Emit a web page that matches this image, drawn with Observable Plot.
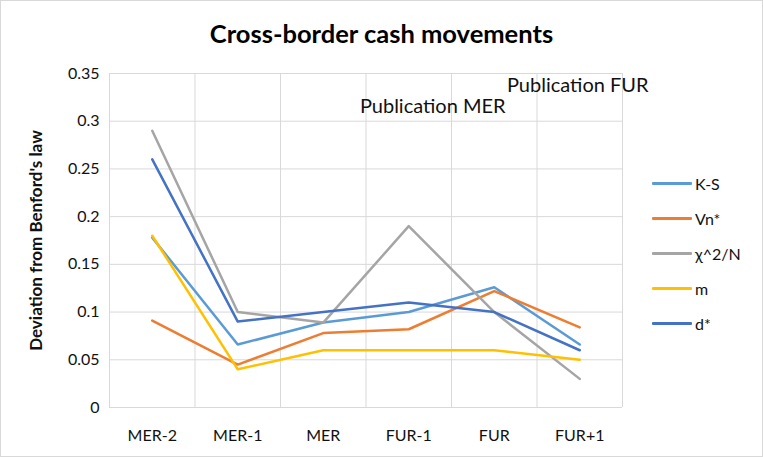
<!DOCTYPE html>
<html>
<head>
<meta charset="utf-8">
<script src="https://cdn.jsdelivr.net/npm/d3@7"></script>
<script src="https://cdn.jsdelivr.net/npm/@observablehq/plot@0.6"></script>
<style>
  html, body { margin: 0; padding: 0; background: #fff; }
  #chart { position: relative; width: 763px; height: 457px; box-sizing: border-box; border: 1px solid #d9d9d9; background: #fff; font-family: Lato, "Open Sans", sans-serif; color: #111; }
  #title { height: 54px; box-sizing: border-box; padding-top: 20px; text-align: center; font-weight: bold; font-size: 25.5px; line-height: 24px; color: #000; }
  #legend { position: absolute; left: 651px; top: 165px; }
  .item { display: flex; align-items: center; height: 35px; font-size: 16px; color: #111; }
  .swatch { width: 40px; height: 2.5px; margin-right: 3px; border-radius: 1px; }
  svg g[aria-label="y-axis label"] text { font-weight: bold; font-size: 17px; }
</style>
</head>
<body>
<div id="chart">
  <div id="title">Cross-border cash movements</div>
  <div id="plot"></div>
  <div id="legend"></div>
</div>
<script>
// ---- data ----
const categories = ["MER-2", "MER-1", "MER", "FUR-1", "FUR", "FUR+1"];
const seriesNames = ["K-S", "Vn*", "χ^2/N", "m", "d*"];
const ksValues = [0.178, 0.066, 0.089, 0.100, 0.126, 0.066];
const vnValues = [0.091, 0.045, 0.078, 0.082, 0.122, 0.084];
const chiValues = [0.290, 0.100, 0.089, 0.190, 0.100, 0.030];
const mValues = [0.180, 0.040, 0.060, 0.060, 0.060, 0.050];
const dValues = [0.260, 0.090, 0.100, 0.110, 0.100, 0.060];
const seriesColors = ["#5B9BD5", "#ED7D31", "#A5A5A5", "#FFC000", "#4472C4"];
const yTicks = [0, 0.05, 0.1, 0.15, 0.2, 0.25, 0.3, 0.35];
const yLabel = "Deviation from Benford's law";
const annotationTexts = ["Publication MER", "Publication FUR"];
const annotationCats = ["FUR-1", "FUR+1"];
const annotationValues = [0.3155, 0.3375];

// ---- build table ----
const allValues = [ksValues, vnValues, chiValues, mValues, dValues];
const rows = [];
seriesNames.forEach((s, k) => {
  categories.forEach((c, i) => rows.push({series: s, i, value: allValues[k][i]}));
});
const annotations = annotationTexts.map((t, k) => ({text: t, i: categories.indexOf(annotationCats[k]), value: annotationValues[k]}));
const idx = d3.range(categories.length);
const boundaries = d3.range(categories.length + 1).map(i => i - 0.5);

const chart = Plot.plot({
  width: 761,
  height: 401,
  marginLeft: 108,
  marginRight: 140,
  marginTop: 18,
  marginBottom: 49,
  style: {fontFamily: "Lato, 'Open Sans', sans-serif", fontSize: "16px", color: "#111", background: "#fff"},
  x: {type: "linear", domain: [-0.5, categories.length - 0.5]},
  y: {domain: [0, 0.35]},
  color: {domain: seriesNames, range: seriesColors},
  marks: [
    Plot.gridY(yTicks, {stroke: "#d9d9d9", strokeOpacity: 1, strokeWidth: 1}),
    Plot.gridX(boundaries, {stroke: "#d9d9d9", strokeOpacity: 1, strokeWidth: 1}),
    Plot.axisY({ticks: yTicks, tickSize: 0, tickPadding: 10, tickFormat: d => String(d), fontSize: 16,
      label: yLabel, labelAnchor: "center", labelArrow: "none", labelOffset: 80}),
    Plot.axisX({ticks: idx, tickSize: 0, tickPadding: 22, tickFormat: i => categories[i], fontSize: 16, label: null}),
    Plot.line(rows, {x: "i", y: "value", z: "series", stroke: "series", strokeWidth: 2.5, strokeLinejoin: "round", strokeLinecap: "round"}),
    Plot.text(annotations, {x: "i", y: "value", text: "text", fontSize: 20, fill: "#111", dx: 24, filter: d => d.text === annotationTexts[0]}),
    Plot.text(annotations, {x: "i", y: "value", text: "text", fontSize: 20, fill: "#111", dx: -2, filter: d => d.text === annotationTexts[1]})
  ]
});
document.getElementById("plot").appendChild(chart);

// ---- legend ----
const legend = document.getElementById("legend");
seriesNames.forEach((s, k) => {
  const item = document.createElement("div");
  item.className = "item";
  const sw = document.createElement("span");
  sw.className = "swatch";
  sw.style.background = seriesColors[k];
  const lab = document.createElement("span");
  lab.textContent = s;
  item.appendChild(sw);
  item.appendChild(lab);
  legend.appendChild(item);
});
</script>
</body>
</html>
